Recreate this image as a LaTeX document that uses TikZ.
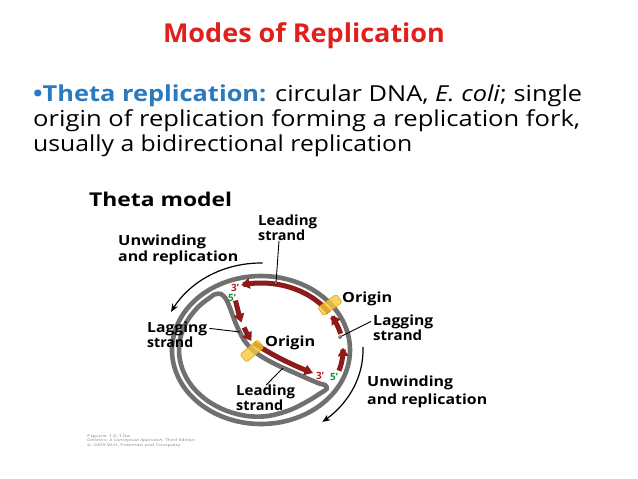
\documentclass[tikz,border=0pt]{standalone}
\usepackage{fontspec}
\usepackage{graphicx}
\setmainfont{Open Sans}
\usetikzlibrary{arrows.meta}
\definecolor{titlered}{HTML}{E0201C}
\definecolor{thetablue}{HTML}{2A7ABF}
\definecolor{dnagray}{HTML}{707070}
\definecolor{dnared}{HTML}{8E1B1B}
\definecolor{primered}{HTML}{B22222}
\definecolor{primegreen}{HTML}{1E8C3A}
\definecolor{oriyel}{HTML}{F6C83C}
\definecolor{oriedge}{HTML}{E0A800}
\newlength\fitlen
\newcommand\fitw[2]{\settowidth\fitlen{#2}\pgfmathsetmacro\fitfac{#1/\fitlen}\scalebox{\fitfac}[1]{#2}}
\begin{document}
\begin{tikzpicture}[x=1pt,y=-1pt,
  lbl/.style={font=\fontsize{14}{16}\selectfont\bfseries, inner sep=0pt, anchor=base west},
  body/.style={font=\fontsize{22}{26}\selectfont, inner sep=0pt, anchor=base west},
  grayline/.style={draw=dnagray, line width=4.6pt},
  newstrand/.style={draw=dnared, line width=5pt, -{Triangle[length=8.5pt,width=10.5pt]}},
  ptr/.style={draw=black, line width=0.9pt},
  unw/.style={draw=black, line width=1.2pt, -{Stealth[length=8pt,width=6.5pt]}},
  orib/.style={minimum width=23pt, minimum height=10pt, inner sep=0pt, rounded corners=1.5pt, fill=oriyel, fill opacity=0.8, draw=oriedge, line width=0.6pt},
  prime/.style={font=\fontsize{10}{11}\selectfont\bfseries, inner sep=0pt},
  dotend/.style={circle, draw=black, fill=white, line width=0.5pt, inner sep=0pt, minimum size=2.8pt},
  credit/.style={font=\fontsize{3.6}{4}\selectfont, text=black!45, inner sep=0pt, anchor=base west}]
\useasboundingbox (0,0) rectangle (638,479);
\fill[white] (0,0) rectangle (638,479);

% title and text
\node[font=\fontsize{26}{30}\selectfont\bfseries, text=titlered, inner sep=0pt, anchor=base] (title) at (304,42) {\fitw{282}{Modes of Replication}};
\node[body] (l1) at (33,101) {\fitw{549}{{\color{thetablue}\bfseries •Theta replication:} circular DNA, \textit{E. coli}; single}};
\node[body] (l2) at (33,126.5) {\fitw{547}{origin of replication forming a replication fork,}};
\node[body] (l3) at (33,151.5) {\fitw{379}{usually a bidirectional replication}};

\node[font=\fontsize{19}{22}\selectfont\bfseries, inner sep=0pt, anchor=base west] (theta) at (89,206) {\fitw{143}{Theta model}};

% DNA: outer strand
\draw[grayline] plot[domain=0:360, samples=100, smooth cycle, variable=\t] ({261+89*cos(\t)},{350-74*sin(\t)});
% inner strand loop (unreplicated inner line + interior S)
\draw[grayline] plot[smooth cycle, tension=0.55] coordinates {
 (210.5,297.2) (198.2,306.9) (186.7,321.7) (180.2,338.4) (179.3,355.8) (183.9,372.9)
 (193.8,388.4) (208.3,401.3) (226.3,410.7) (246.8,416.0) (268,416) (290,410) (308,401)
 (320,393.5) (326.5,389) (325,385) (318,383) (296,373.5) (272,362.5) (255,352) (244,340)
 (236,324) (230,308) (226,299) (221,294) (215,294.3)};

% new strands
\draw[newstrand] plot[domain=34:104, samples=40, smooth, variable=\t] ({261+82*cos(\t)},{350-67*sin(\t)});
\draw[newstrand] plot[domain=14:31, samples=12, smooth, variable=\t] ({261+82*cos(\t)},{350-67*sin(\t)});
\draw[newstrand] plot[domain=-18:2, samples=12, smooth, variable=\t] ({261+82*cos(\t)},{350-67*sin(\t)});
\draw[newstrand] plot[smooth, tension=0.6] coordinates {(235.5,300.5) (238.2,311.5) (241.5,322.5)};
\draw[newstrand] plot[smooth, tension=0.6] coordinates {(244,327.5) (247.5,334.5) (251.5,341)};
\draw[newstrand] plot[smooth, tension=0.6] coordinates {(254,343) (260,347) (277,356.8) (297,366.5) (313,373)};

% origins
\node[orib, rotate=36] (oriR) at (330,305) {};
\node[orib, rotate=40] (oriC) at (252,351) {};

% primes
\node[prime, text=primered] (p3a) at (235,287.5) {3’};
\node[prime, text=primegreen] (p5a) at (232,297.5) {5’};
\node[prime, text=primered] (p3b) at (320,375.5) {3’};
\node[prime, text=primegreen] (p5b) at (334,376.5) {5’};

% unwinding arrows
\draw[unw] plot[domain=89:154, samples=30, smooth, variable=\t] ({261+100*cos(\t)},{350-87*sin(\t)});
\draw[unw] plot[domain=2:-53, samples=30, smooth, variable=\t] ({261+102*cos(\t)},{350-90*sin(\t)});

% labels
\node[lbl] (leadT1) at (258,225.5) {\fitw{59}{Leading}};
\node[lbl] (leadT2) at (258,240.5) {\fitw{47}{strand}};
\node[lbl] (unwT1) at (118,245) {\fitw{88}{Unwinding}};
\node[lbl] (unwT2) at (118,261) {\fitw{120}{and replication}};
\node[lbl] (oriRl) at (342,302) {\fitw{50}{Origin}};
\node[lbl] (lagR1) at (373,325) {\fitw{60}{Lagging}};
\node[lbl] (lagR2) at (373,340.5) {\fitw{49}{strand}};
\node[lbl] (lagL1) at (147,332) {\fitw{60}{Lagging}};
\node[lbl] (lagL2) at (147,347.5) {\fitw{46}{strand}};
\node[lbl] (oriCl) at (265,346) {\fitw{50}{Origin}};
\node[lbl] (leadB1) at (236,395) {\fitw{59}{Leading}};
\node[lbl] (leadB2) at (236,410.5) {\fitw{47}{strand}};
\node[lbl] (unwB1) at (367,386) {\fitw{86}{Unwinding}};
\node[lbl] (unwB2) at (367,404) {\fitw{120}{and replication}};

% pointers
\coordinate (pLL) at (240,332);
\coordinate (pLB) at (283,368);
\coordinate (sLT) at (279,243.5);
\node[dotend] (pLT) at (276,283) {};
\draw[ptr] (leadT2.south -| sLT) -- (pLT);
\node[dotend] (pLR) at (340,337) {};
\draw[ptr] ([xshift=-2pt]lagR1.west) -- (pLR);
\draw[ptr] ([xshift=2pt]lagL1.east) -- (pLL);
\draw[ptr] ([yshift=-1pt]leadB1.north -| 266,0) -- (pLB);

% credits
\node[credit] (cr1) at (87,437) {\fitw{43}{Figure 12-10a}};
\node[credit] (cr2) at (87,441.5) {\fitw{108}{\textit{Genetics: A Conceptual Approach}, Third Edition}};
\node[credit] (cr3) at (87,446) {\fitw{93}{© 2009 W.H. Freeman and Company}};
\end{tikzpicture}
\end{document}
